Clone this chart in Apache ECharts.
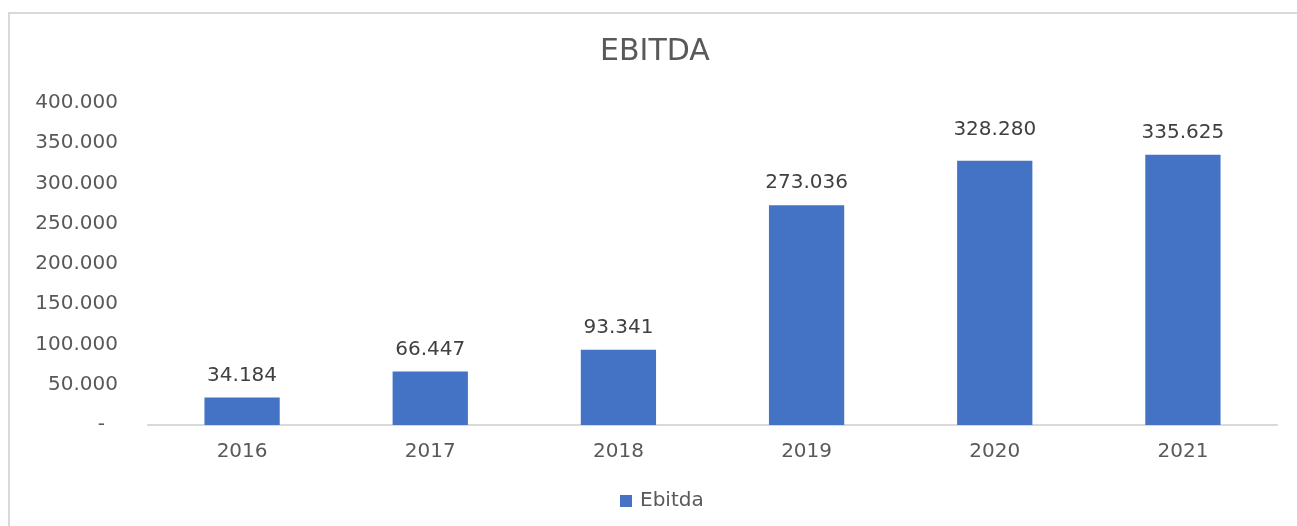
<!DOCTYPE html>
<html>
<head>
<meta charset="utf-8">
<title>EBITDA</title>
<script src="https://cdn.jsdelivr.net/npm/echarts@6/dist/echarts.min.js"></script>
<style>
  html, body { margin: 0; padding: 0; background: #ffffff; overflow: hidden; }
  #wrap { position: relative; width: 1297px; height: 526px; overflow: hidden; }
  #frame {
    position: absolute; left: 8px; top: 12px; width: 1289px; height: 514px;
    border-left: 2px solid #d9d9d9; border-top: 2px solid #d9d9d9;
    box-sizing: border-box; pointer-events: none;
  }
  #chart { position: absolute; left: 0; top: 0; width: 1297px; height: 526px; }
</style>
</head>
<body>
<div id="wrap">
  <div id="frame"></div>
  <div id="chart"></div>
</div>
<script>
// Yearly EBITDA figures
const years = ['2016', '2017', '2018', '2019', '2020', '2021'];
const ebitda = [34184, 66447, 93341, 273036, 328280, 335625];
const seriesName = 'Ebitda';
const chartTitle = 'EBITDA';

const FONT = 'DejaVu Sans';
const GREY = '#595959';

// Thousands separated with dots, zero shown as a dash
function fmt(v) {
  if (v === 0) return '{dash|-}';
  return String(Math.round(v)).replace(/\B(?=(\d{3})+(?!\d))/g, '.');
}

const chart = echarts.init(document.getElementById('chart'), null, { renderer: 'canvas' });

chart.setOption({
  animation: false,
  backgroundColor: 'transparent',
  title: {
    text: chartTitle,
    left: 600,
    top: 37,
    padding: 0,
    textStyle: { fontFamily: FONT, fontSize: 30, fontWeight: 'normal', color: GREY }
  },
  legend: {
    data: [seriesName],
    left: 620,
    top: 491,
    padding: 0,
    icon: 'rect',
    itemWidth: 12,
    itemHeight: 12,
    itemGap: 8,
    textStyle: { fontFamily: FONT, fontSize: 20, color: GREY, padding: [0, 0, 0, 3] }
  },
  grid: { left: 148, right: 20, top: 103, bottom: 101, containLabel: false },
  xAxis: {
    type: 'category',
    data: years,
    axisLine: { lineStyle: { color: '#d9d9d9', width: 2 } },
    axisTick: { show: false },
    axisLabel: { margin: 17, fontFamily: FONT, fontSize: 20, color: GREY }
  },
  yAxis: {
    type: 'value',
    min: 0,
    max: 400000,
    interval: 50000,
    splitLine: { show: false },
    axisLine: { show: false },
    axisTick: { show: false },
    axisLabel: {
      margin: 30,
      fontFamily: FONT,
      fontSize: 20,
      color: GREY,
      formatter: fmt,
      rich: { dash: { fontFamily: FONT, fontSize: 20, color: GREY, padding: [0, 13, 0, 0] } }
    }
  },
  series: [{
    name: seriesName,
    type: 'bar',
    data: ebitda.map((v, i) => ({
      value: v,
      // the 2020 label sits a little higher above its bar
      label: i === 4 ? { distance: 21 } : undefined
    })),
    barWidth: '40%',
    itemStyle: { color: '#4472C4' },
    label: {
      show: true,
      position: 'top',
      distance: 12,
      fontFamily: FONT,
      fontSize: 20,
      color: '#404040',
      formatter: p => fmt(p.value)
    }
  }]
});
</script>
</body>
</html>
